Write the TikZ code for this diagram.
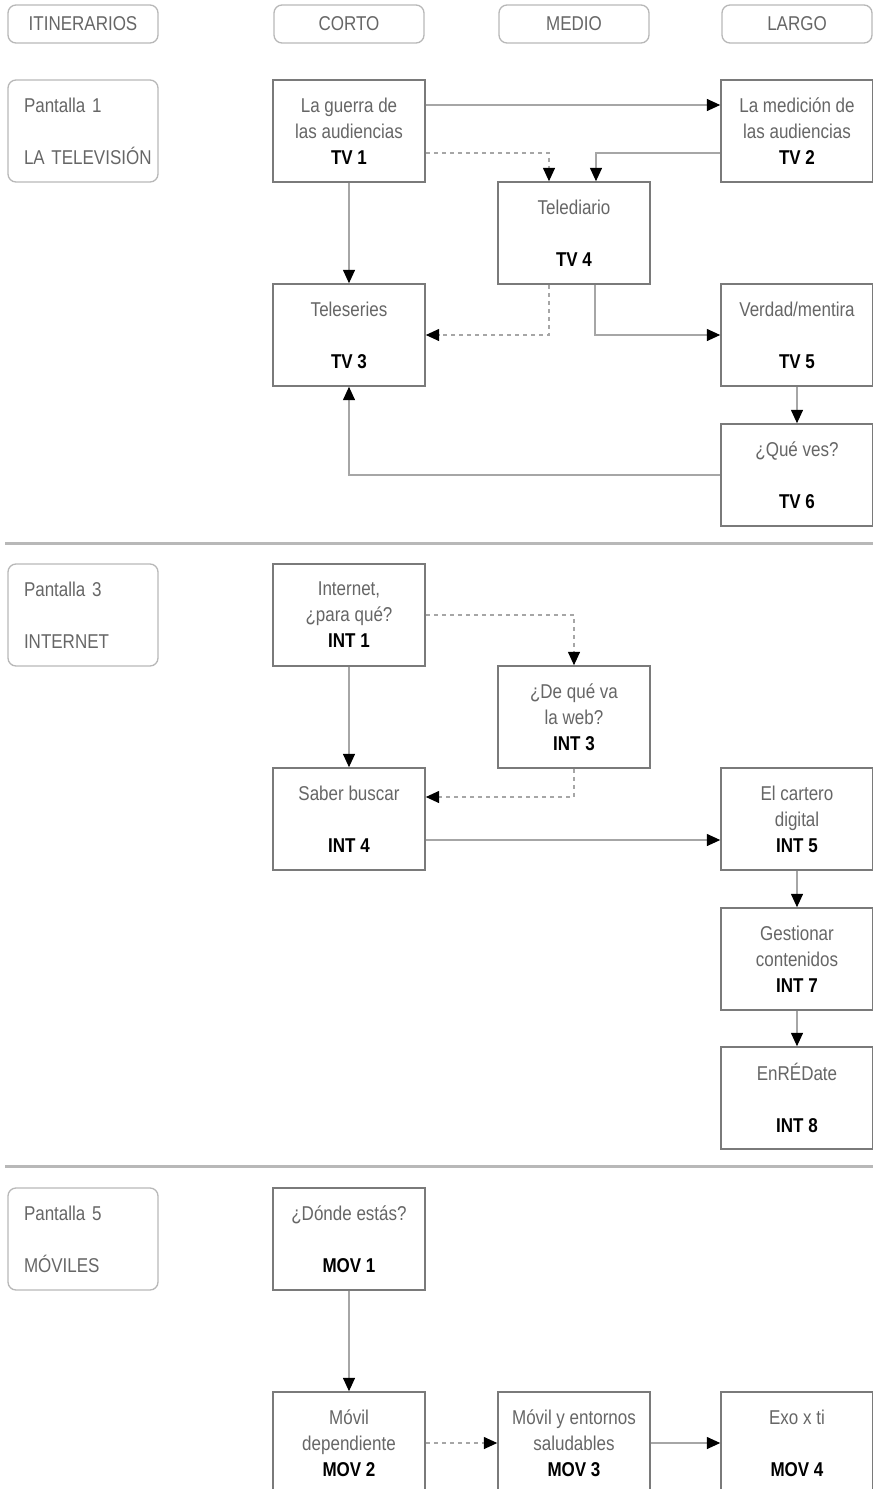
\documentclass[tikz,border=0pt]{standalone}
\usepackage{fontspec}
\setmainfont{Liberation Sans}[FakeStretch=0.85]
\usetikzlibrary{arrows.meta,calc}
\definecolor{textogris}{HTML}{666666}
\definecolor{bordegris}{HTML}{7A7A7A}
\definecolor{etiqgris}{HTML}{B8B8B8}
\definecolor{lineagris}{HTML}{A6A6A6}
\newcommand{\cod}[1]{\textcolor{black}{\textbf{#1}}}
\begin{document}
\begin{tikzpicture}[x=0.75pt, y=-0.75pt, font=\fontsize{15pt}{19.5pt}\selectfont, text=textogris]
    \tikzset{%
      modul/.style={draw=bordegris, line width=1.2pt, fill=white, minimum width=114pt, minimum height=76.5pt, inner sep=0pt, align=center},
      etiq/.style={draw=etiqgris, line width=1pt, rounded corners=6pt, minimum width=112.5pt, inner sep=0pt},
      pant/.style={etiq, minimum height=76.5pt, text width=88.5pt, inner xsep=12pt, align=left},
      enlace/.style={draw=lineagris, line width=0.9pt, -{Triangle[length=10pt, width=9pt, color=black]}},
      punteado/.style={enlace, dashed}
      }
    \useasboundingbox (0,0) rectangle (873,1489);

    % cabecera
    \node [etiq, minimum height=28.5pt] (Xitin) at (83,24) {ITINERARIOS};
    \node [etiq, minimum height=28.5pt] (Xcorto) at (349,24) {CORTO};
    \node [etiq, minimum height=28.5pt] (Xmedio) at (574,24) {MEDIO};
    \node [etiq, minimum height=28.5pt] (Xlargo) at (797,24) {LARGO};

    % pantalla 1
    \node [pant] (Xpant1) at (83,131) {Pantalla 1\\[19.5pt]\mbox{LA TELEVISIÓN}};
    \node [modul] (Xtv1) at (349,131) {La guerra de\\las audiencias\\\cod{TV 1}};
    \node [modul] (Xtv2) at (797,131) {La medición de\\las audiencias\\\cod{TV 2}};
    \node [modul] (Xtv4) at (574,233) {Telediario\\[19.5pt]\cod{TV 4}};
    \node [modul] (Xtv3) at (349,335) {Teleseries\\[19.5pt]\cod{TV 3}};
    \node [modul] (Xtv5) at (797,335) {Verdad/mentira\\[19.5pt]\cod{TV 5}};
    \node [modul] (Xtv6) at (797,475) {¿Qué ves?\\[19.5pt]\cod{TV 6}};
    \draw [enlace] ($(Xtv1.east)+(0,-26)$) -- ($(Xtv2.west)+(0,-26)$);
    \draw [punteado] ($(Xtv1.east)+(0,22)$) -| ($(Xtv4.north)+(-25,0)$);
    \draw [enlace] ($(Xtv2.west)+(0,22)$) -| ($(Xtv4.north)+(22,0)$);
    \draw [enlace] (Xtv1.south) -- (Xtv3.north);
    \draw [punteado] ($(Xtv4.south)+(-25,0)$) |- (Xtv3.east);
    \draw [enlace] ($(Xtv4.south)+(21,0)$) |- (Xtv5.west);
    \draw [enlace] (Xtv5.south) -- (Xtv6.north);
    \draw [enlace] (Xtv6.west) -| (Xtv3.south);

    \draw [etiqgris, line width=2.25pt] (5,543) -- (873,543);

    % pantalla 3
    \node [pant] (Xpant3) at (83,615) {Pantalla 3\\[19.5pt]INTERNET};
    \node [modul] (Xint1) at (349,615) {Internet,\\¿para qué?\\\cod{INT 1}};
    \node [modul] (Xint3) at (574,717) {¿De qué va\\la web?\\\cod{INT 3}};
    \node [modul] (Xint4) at (349,819) {Saber buscar\\[19.5pt]\cod{INT 4}};
    \node [modul] (Xint5) at (797,819) {El cartero\\digital\\\cod{INT 5}};
    \node [modul] (Xint7) at (797,959) {Gestionar\\contenidos\\\cod{INT 7}};
    \node [modul] (Xint8) at (797,1098) {EnRÉDate\\[19.5pt]\cod{INT 8}};
    \draw [punteado] (Xint1.east) -| (Xint3.north);
    \draw [enlace] (Xint1.south) -- (Xint4.north);
    \draw [punteado] (Xint3.south) |- ($(Xint4.east)+(0,-22)$);
    \draw [enlace] ($(Xint4.east)+(0,21)$) -- ($(Xint5.west)+(0,21)$);
    \draw [enlace] (Xint5.south) -- (Xint7.north);
    \draw [enlace] (Xint7.south) -- (Xint8.north);

    \draw [etiqgris, line width=2.25pt] (5,1166) -- (873,1166);

    % pantalla 5
    \node [pant] (Xpant5) at (83,1239) {Pantalla 5\\[19.5pt]MÓVILES};
    \node [modul] (Xmov1) at (349,1239) {¿Dónde estás?\\[19.5pt]\cod{MOV 1}};
    \node [modul] (Xmov2) at (349,1443) {Móvil\\dependiente\\\cod{MOV 2}};
    \node [modul] (Xmov3) at (574,1443) {Móvil y entornos\\saludables\\\cod{MOV 3}};
    \node [modul] (Xmov4) at (797,1443) {Exo x ti\\[19.5pt]\cod{MOV 4}};
    \draw [enlace] (Xmov1.south) -- (Xmov2.north);
    \draw [punteado] (Xmov2.east) -- (Xmov3.west);
    \draw [enlace] (Xmov3.east) -- (Xmov4.west);
  \end{tikzpicture}
\end{document}
